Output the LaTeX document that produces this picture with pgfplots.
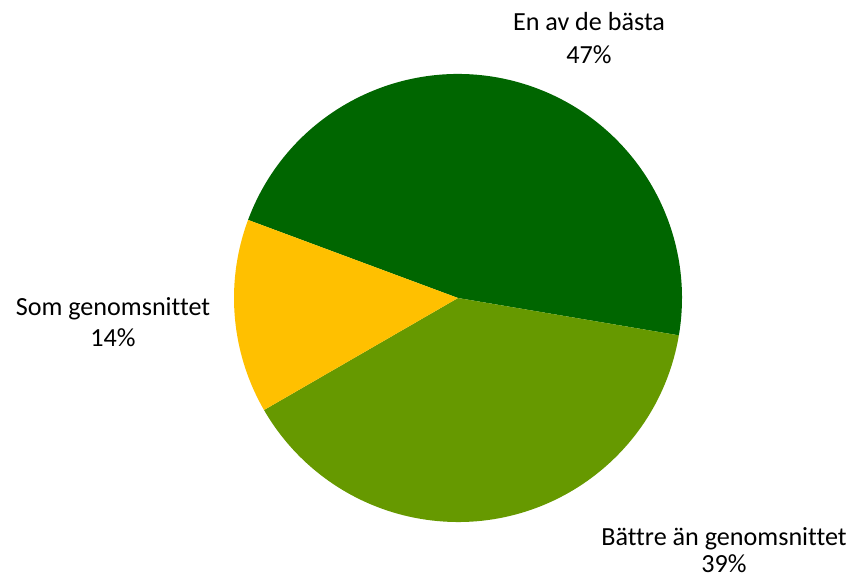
\documentclass[border=0pt]{standalone}
\usepackage{fontspec}
\setmainfont{Carlito}[Ligatures=NoCommon]
\usepackage{pgfplots}
\pgfplotsset{compat=1.18}

\definecolor{bestgreen}{HTML}{006600}
\definecolor{bettergreen}{HTML}{669900}
\definecolor{avgyellow}{HTML}{FFC000}

% shares in percent
\def\pBest{47}
\def\pBetter{39}
\def\pAvg{14}

\begin{document}
\begin{tikzpicture}
% slice angles, clockwise from the first edge
\pgfmathsetmacro{\aStart}{159.6}
\pgfmathsetmacro{\aOne}{\aStart-3.6*\pBest}
\pgfmathsetmacro{\aTwo}{\aOne-3.6*\pBetter}
\pgfmathsetmacro{\aThree}{\aTwo-3.6*\pAvg}
\begin{axis}[
    scale only axis,
    width=642.75pt, height=434.25pt,
    xmin=0, xmax=857, ymin=-579, ymax=0,
    hide axis, clip=false,
]
\path (axis cs:0,0) rectangle (axis cs:857,-579);
\fill[bestgreen] (axis cs:458,-298) -- ++(\aStart:168pt)
    arc[start angle=\aStart, end angle=\aOne, radius=168pt] -- cycle;
\fill[bettergreen] (axis cs:458,-298) -- ++(\aOne:168pt)
    arc[start angle=\aOne, end angle=\aTwo, radius=168pt] -- cycle;
\fill[avgyellow] (axis cs:458,-298) -- ++(\aTwo:168pt)
    arc[start angle=\aTwo, end angle=\aThree, radius=168pt] -- cycle;

\begin{scope}[every node/.style={anchor=base, font=\fontsize{19.6}{24}\selectfont, inner sep=0pt}]
\node at (axis cs:589,-31) {En av de bästa};
\node at (axis cs:589,-64) {\pBest\%};
\node at (axis cs:113,-316) {Som genomsnittet};
\node at (axis cs:113,-347) {\pAvg\%};
\node at (axis cs:724,-545) {Bättre än genomsnittet};
\node at (axis cs:724,-572) {\pBetter\%};
\end{scope}
\end{axis}
\end{tikzpicture}
\end{document}
